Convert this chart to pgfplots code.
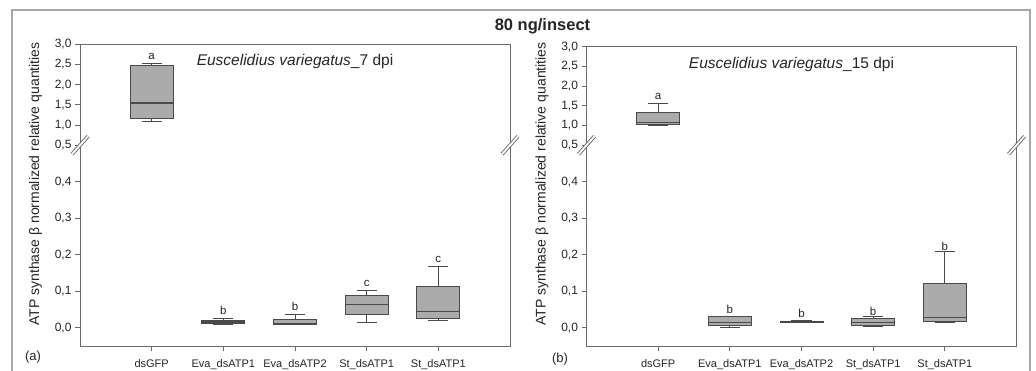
\documentclass[border=0pt]{standalone}
\usepackage{pgfplots}
\pgfplotsset{compat=1.18}
\usepgfplotslibrary{statistics}
\usepackage{fontspec}
\setmainfont{Liberation Sans}
\definecolor{axgray}{HTML}{6A6A6A}
\definecolor{boxfill}{HTML}{ABABAB}
\definecolor{boxline}{HTML}{4A4A4A}
\definecolor{framegray}{HTML}{A8A8A8}
\definecolor{txt}{HTML}{262626}
\tikzset{lett/.style={font=\fontsize{11.5}{12}\selectfont, text=txt}}
\pgfplotsset{
  brkax/.style={
    scale only axis, width=430pt, xmin=0, xmax=6,
    axis line style={draw=none},
    tick style={axgray, line width=0.8pt},
    major tick length=5pt,
    tick align=outside, tick pos=left,
    /pgf/number format/assume math mode=true,
    yticklabel style={/pgf/number format/fixed, /pgf/number format/fixed zerofill,
      /pgf/number format/precision=1, /pgf/number format/use comma},
    tick label style={font=\fontsize{12}{13}\selectfont, text=txt},
    xticklabel style={font=\fontsize{11}{12}\selectfont, yshift=-4.5pt},
    every axis plot/.append style={draw=boxline, fill=boxfill, line width=1pt},
    boxplot/draw direction=y,
    boxplot/every median/.style={line width=1.5pt},
  },
  upax/.style={brkax, ymin=0.5, ymax=3.0, ytick={0.5,1,1.5,2,2.5,3}, xtick=\empty},
  lowax/.style={brkax, height=200.75pt, ymin=-0.05, ymax=0.5, ytick={0,0.1,0.2,0.3,0.4},
    xtick={1,2,3,4,5}, xticklabels={dsGFP, Eva\_dsATP1, Eva\_dsATP2, St\_dsATP1, St\_dsATP1}},
}
\newcommand{\bx}[6]{\addplot[boxplot prepared={draw position=#1, lower whisker=#2, lower quartile=#3, median=#4, upper quartile=#5, upper whisker=#6, box extend=0.6, whisker extend=0.28}] coordinates {};}
\begin{document}
\begin{tikzpicture}
\useasboundingbox (0pt,0pt) rectangle (1036pt,370pt);
\fill[white] (0pt,0pt) rectangle (1036pt,370pt);
\draw[framegray, line width=1.5pt] (12pt,-5pt) -- (12pt,360pt) -- (1030pt,360pt) -- (1030pt,-5pt);

% ---------- panel (a)
\begin{axis}[lowax, name=aL, at={(80pt,24pt)}, anchor=south west]
\bx{2}{0.010}{0.012}{0.016}{0.021}{0.024}
\bx{3}{0.008}{0.009}{0.012}{0.022}{0.037}
\bx{4}{0.014}{0.036}{0.064}{0.089}{0.102}
\bx{5}{0.020}{0.024}{0.044}{0.112}{0.168}
\node[lett] at (axis cs:2,0.048) {b};
\node[lett] at (axis cs:3,0.058) {b};
\node[lett] at (axis cs:4,0.120) {c};
\node[lett] at (axis cs:5,0.186) {c};
\end{axis}
\begin{axis}[upax, name=aU, height=100.9pt, at={(80pt,224.75pt)}, anchor=south west]
\bx{1}{1.08}{1.17}{1.55}{2.47}{2.52}
\node[lett] at (axis cs:1,2.71) {a};
\node[font=\fontsize{15.5}{17}\selectfont, text=txt] at (axis cs:3.0,2.58) {\textit{Euscelidius variegatus}\_7 dpi};
\end{axis}

% ---------- panel (b)
\begin{axis}[lowax, name=bL, at={(586.5pt,24pt)}, anchor=south west]
\bx{2}{0.002}{0.006}{0.014}{0.032}{0.032}
\bx{3}{0.014}{0.015}{0.017}{0.018}{0.019}
\bx{4}{0.003}{0.006}{0.015}{0.026}{0.030}
\bx{5}{0.015}{0.017}{0.028}{0.122}{0.208}
\node[lett] at (axis cs:2,0.050) {b};
\node[lett] at (axis cs:3,0.038) {b};
\node[lett] at (axis cs:4,0.046) {b};
\node[lett] at (axis cs:5,0.222) {b};
\end{axis}
\begin{axis}[upax, name=bU, height=98.5pt, at={(586.5pt,224.75pt)}, anchor=south west]
\bx{1}{1.00}{1.02}{1.08}{1.34}{1.55}
\node[lett] at (axis cs:1,1.73) {a};
\node[font=\fontsize{15.5}{17}\selectfont, text=txt] at (axis cs:2.86,2.55) {\textit{Euscelidius variegatus}\_15 dpi};
\end{axis}

% frames and breaks
\foreach \p in {a,b}{
  \draw[axgray, line width=1pt] (\p L.north west) -- (\p L.south west) -- (\p L.south east) -- (\p L.north east);
  \draw[axgray, line width=1pt] (\p U.south west) -- (\p U.north west) -- (\p U.north east) -- (\p U.south east);
  \draw[axgray, line width=0.9pt, double=white, double distance=1.8pt] ([shift={(-8pt,-9pt)}]\p L.north west) -- ([shift={(8pt,9pt)}]\p L.north west);
  \draw[axgray, line width=0.9pt, double=white, double distance=1.8pt] ([shift={(-8pt,-9pt)}]\p L.north east) -- ([shift={(8pt,9pt)}]\p L.north east);
}

% texts
\node[font=\bfseries\fontsize{16.5}{18}\selectfont, text=txt] at (542.5pt,344pt) {80 ng/insect};
\node[rotate=90, font=\fontsize{14}{16}\selectfont, text=txt] at (35.5pt,186pt) {ATP synthase β normalized relative quantities};
\node[rotate=90, font=\fontsize{14}{16}\selectfont, text=txt] at (542pt,186pt) {ATP synthase β normalized relative quantities};
\node[font=\fontsize{13}{15}\selectfont, text=txt] at (33pt,13pt) {(a)};
\node[font=\fontsize{13}{15}\selectfont, text=txt] at (560pt,11pt) {(b)};
\end{tikzpicture}
\end{document}
